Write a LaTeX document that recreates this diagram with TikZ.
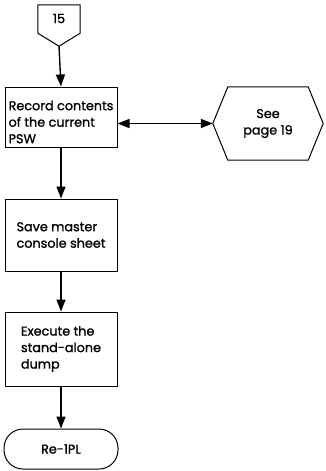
\documentclass[tikz,border=0pt]{standalone}
\usepackage{fontspec}
\setmainfont{Poppins}[UprightFeatures={FakeBold=1.2}]
\usetikzlibrary{arrows.meta}
\begin{document}
\begin{tikzpicture}[x=1pt,y=-1pt,
  font=\fontsize{12.8}{16.5}\selectfont,
  box/.style={draw, line width=1pt, inner sep=1pt, align=left, minimum width=112pt},
  conn/.style={line width=1.4pt, -{Triangle[length=12pt,width=9pt]}},
  shp/.style={line width=1pt, line join=miter}]
\useasboundingbox (0,0) rectangle (325,471);
% off-page connector 15
\node[minimum width=42pt, minimum height=41pt, inner sep=0pt] (c15) at (59,25.5) {};
\draw[shp] (c15.north west) -- (c15.north east) -- ([yshift=13pt]c15.south east) -- (c15.south) -- ([yshift=13pt]c15.south west) -- cycle;
\node (c15t) at (59,18.5) {15};
% boxes
\node[box, minimum height=60pt] (b1) at (61,117) {};
\node[align=left, inner sep=0pt] (b1t) at (61,122) {Record contents\\of the current\\PSW};
\node[box, minimum height=72pt] (b2) at (61,235) {Save master\\console sheet};
\node[box, minimum height=74pt] (b3) at (61,349) {Execute the\\stand-alone\\dump};
\node[draw, line width=1pt, rounded corners=19pt, minimum width=114pt, minimum height=40pt] (t) at (61,449) {Re-1PL};
% hexagon
\node[minimum width=110pt, minimum height=73pt, inner sep=0pt, align=center] (see) at (268,123.5) {See\\page 19};
\draw[shp] (see.west) -- ([xshift=15pt]see.north west) -- ([xshift=-15pt]see.north east) -- (see.east) -- ([xshift=-15pt]see.south east) -- ([xshift=15pt]see.south west) -- cycle;
% connectors
\draw[conn] (c15.south) -- (b1.north);
\draw[conn] (b1.south) -- (b2.north);
\draw[conn] (b2.south) -- (b3.north);
\draw[conn] (b3.south) -- (t.north);
\draw[line width=1.4pt, {Triangle[length=12pt,width=9pt]}-{Triangle[length=12pt,width=9pt]}] (b1.east |- see.west) -- (see.west);
\end{tikzpicture}
\end{document}
